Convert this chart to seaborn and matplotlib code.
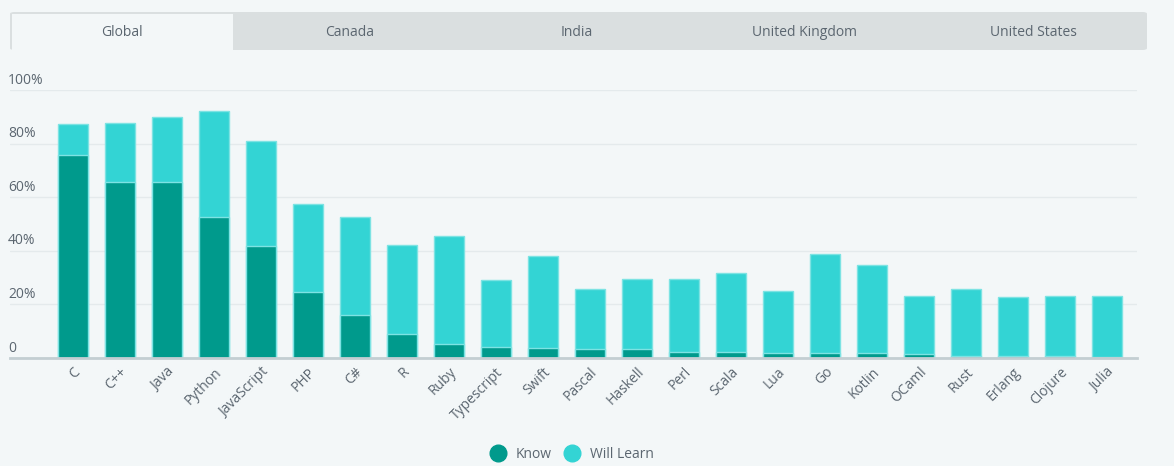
import pandas as pd
import matplotlib.pyplot as plt
import seaborn as sns
from matplotlib.patches import FancyBboxPatch, Rectangle
from matplotlib.lines import Line2D

# -----------------------------
# Data
# -----------------------------
languages = ["C", "C++", "Java", "Python", "JavaScript", "PHP", "C#", "R", "Ruby",
             "Typescript", "Swift", "Pascal", "Haskell", "Perl", "Scala", "Lua", "Go",
             "Kotlin", "OCaml", "Rust", "Erlang", "Clojure", "Julia"]
know = [75.7, 65.6, 65.6, 52.7, 41.7, 24.6, 16.1, 8.9, 5.1, 4.1, 3.7, 3.4, 3.4,
        2.1, 2.1, 1.8, 1.8, 1.8, 1.4, 0.8, 0.7, 0.7, 0.2]
will_learn = [11.5, 22.0, 24.2, 39.3, 39.1, 32.7, 36.3, 33.1, 40.2, 24.8, 34.2, 22.1,
              25.9, 27.2, 29.4, 23.0, 36.8, 32.7, 21.5, 24.7, 21.9, 22.2, 22.7]
tabs = ["Global", "Canada", "India", "United Kingdom", "United States"]
y_ticks = [0, 20, 40, 60, 80, 100]

df = pd.DataFrame({"Language": languages, "Know": know, "Will Learn": will_learn})
df["Total"] = df["Know"] + df["Will Learn"]

# -----------------------------
# Style
# -----------------------------
sns.set_theme(style="white")
plt.rcParams["font.family"] = ["Open Sans", "DejaVu Sans"]

BG = "#f3f7f8"
KNOW_C = "#009a8c"
LEARN_C = "#33d4d4"
EDGE_C = "#7de3e3"
TEXT_C = "#5b6670"

fig = plt.figure(figsize=(11.74, 4.66), dpi=100, facecolor=BG)
W, H = 1174, 466

# tabs bar
fig.patches.append(FancyBboxPatch((10 / W, 1 - 50 / H), 1137 / W, 38 / H,
                                  boxstyle="round,pad=0,rounding_size=0.004",
                                  transform=fig.transFigure, facecolor="#dadfe0",
                                  edgecolor="none", zorder=0))
fig.patches.append(Rectangle((12 / W, 1 - 50 / H), 221 / W, 36 / H,
                             transform=fig.transFigure, facecolor=BG,
                             edgecolor="none", zorder=1))
tab_centers = [122, 350, 577, 805, 1033]
for name, cx in zip(tabs, tab_centers):
    fig.text(cx / W, 1 - 32 / H, name, ha="center", va="center",
             fontsize=10, color=TEXT_C)

# -----------------------------
# Chart
# -----------------------------
ax = fig.add_axes([10 / W, 1 - 357.7 / H, 1127 / W, 267.7 / H])
ax.set_facecolor(BG)

sns.barplot(data=df, x="Language", y="Total", color=LEARN_C, width=0.63,
            edgecolor=EDGE_C, linewidth=1, saturation=1, ax=ax, zorder=2)
sns.barplot(data=df, x="Language", y="Know", color=KNOW_C, width=0.63,
            edgecolor=EDGE_C, linewidth=1, saturation=1, ax=ax, zorder=3)

ax.set_xlim(-1.34, 22.64)
ax.set_ylim(0, 100)
ax.set_yticks(y_ticks)
ax.set_yticklabels([])
ax.tick_params(axis="y", length=0)
ax.grid(axis="y", color="#e4eaec", linewidth=1, zorder=0)
for t in y_ticks:
    label = "0" if t == 0 else f"{t}%"
    ax.text(-1.385, t + 0.8, label, ha="left", va="bottom", fontsize=10,
            color=TEXT_C)

for s in ["top", "right", "left"]:
    ax.spines[s].set_visible(False)
ax.spines["bottom"].set_color("#c3ced2")
ax.spines["bottom"].set_linewidth(2)
ax.spines["bottom"].set_zorder(4)

ax.set_xlabel("")
ax.set_ylabel("")
ax.tick_params(axis="x", length=0, pad=5)
plt.setp(ax.get_xticklabels(), rotation=45, ha="right", rotation_mode="anchor",
         fontsize=10, color=TEXT_C)

# legend
handles = [Line2D([], [], marker="o", linestyle="", markersize=12,
                  markerfacecolor=KNOW_C, markeredgecolor=KNOW_C, label="Know"),
           Line2D([], [], marker="o", linestyle="", markersize=12,
                  markerfacecolor=LEARN_C, markeredgecolor=LEARN_C, label="Will Learn")]
fig.legend(handles=handles, loc="center", bbox_to_anchor=(569 / W, 12 / H), ncol=2,
           frameon=False, fontsize=10, handletextpad=0.3, columnspacing=0.5,
           labelcolor=TEXT_C)

fig.savefig("out.png", dpi=100, facecolor=BG)
